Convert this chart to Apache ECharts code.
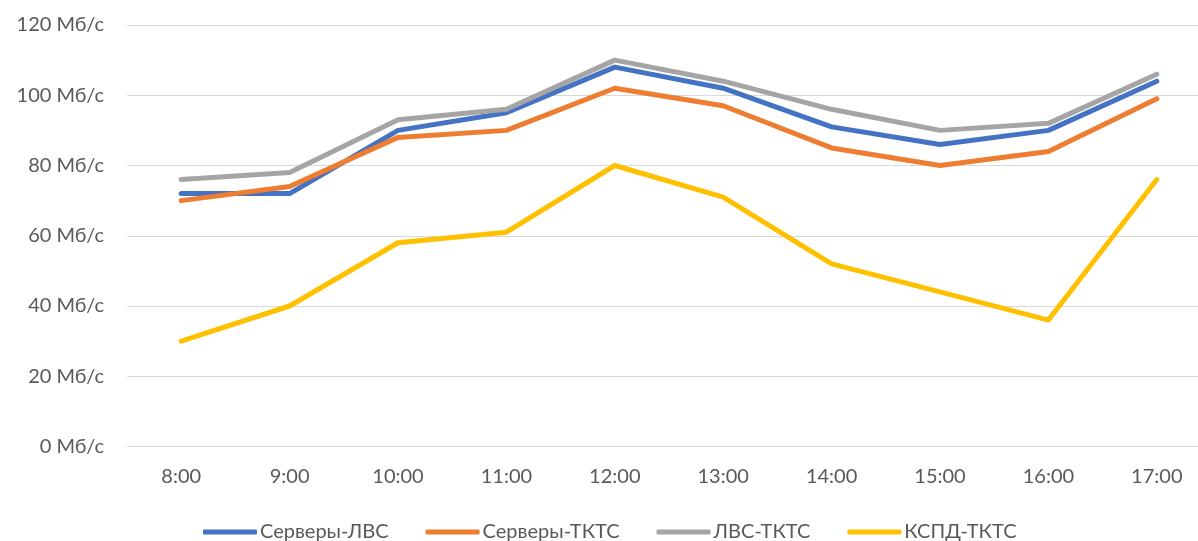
<!DOCTYPE html>
<html>
<head>
<meta charset="utf-8">
<script src="https://cdn.jsdelivr.net/npm/echarts@6/dist/echarts.min.js"></script>
<style>
  html, body { margin: 0; padding: 0; background: #ffffff; }
  #chart { width: 1198px; height: 541px; }
</style>
</head>
<body>
<div id="chart"></div>
<script>
// Hourly throughput by link, Мб/с
const hours = ['8:00', '9:00', '10:00', '11:00', '12:00', '13:00', '14:00', '15:00', '16:00', '17:00'];
const serversLan = [72, 72, 90, 95, 108, 102, 91, 86, 90, 104];
const serversTkts = [70, 74, 88, 90, 102, 97, 85, 80, 84, 99];
const lanTkts = [76, 78, 93, 96, 110, 104, 96, 90, 92, 106];
const kspdTkts = [30, 40, 58, 61, 80, 71, 52, 44, 36, 76];

const seriesNames = ['Серверы-ЛВС', 'Серверы-ТКТС', 'ЛВС-ТКТС', 'КСПД-ТКТС'];
const seriesData = [serversLan, serversTkts, lanTkts, kspdTkts];
const seriesColors = ['#4472C4', '#ED7D31', '#A5A5A5', '#FFC000'];

const fontFamily = 'Lato, "Open Sans", sans-serif';
const textColor = '#595959';

const chart = echarts.init(document.getElementById('chart'), null, { renderer: 'canvas' });

chart.setOption({
  animation: false,
  backgroundColor: '#ffffff',
  // plot area runs past the right edge so the last band is cut off
  grid: { left: 127, top: 25, right: -13, bottom: 94.5, containLabel: false, outerBoundsMode: 'none' },
  legend: {
    data: seriesNames,
    left: 198,
    top: 517,
    icon: 'roundRect',
    itemWidth: 54,
    itemHeight: 5,
    itemGap: 37,
    textStyle: { color: textColor, fontSize: 20, fontFamily: fontFamily, padding: [0, 0, 0, -2] }
  },
  xAxis: {
    type: 'category',
    data: hours,
    boundaryGap: true,
    axisLine: { show: false },
    axisTick: { show: false },
    axisLabel: { color: textColor, fontSize: 20, fontFamily: fontFamily, margin: 20 }
  },
  yAxis: {
    type: 'value',
    min: 0,
    max: 120,
    interval: 20,
    axisLine: { show: false },
    axisTick: { show: false },
    axisLabel: {
      color: textColor,
      fontSize: 20,
      fontFamily: fontFamily,
      margin: 23,
      formatter: v => v + ' Мб/с'
    },
    splitLine: { lineStyle: { color: '#D9D9D9', width: 1 } }
  },
  series: seriesNames.map((name, i) => ({
    name: name,
    type: 'line',
    data: seriesData[i],
    showSymbol: false,
    symbol: 'none',
    color: seriesColors[i],
    lineStyle: { color: seriesColors[i], width: 5, cap: 'round', join: 'round' }
  }))
});
</script>
</body>
</html>
